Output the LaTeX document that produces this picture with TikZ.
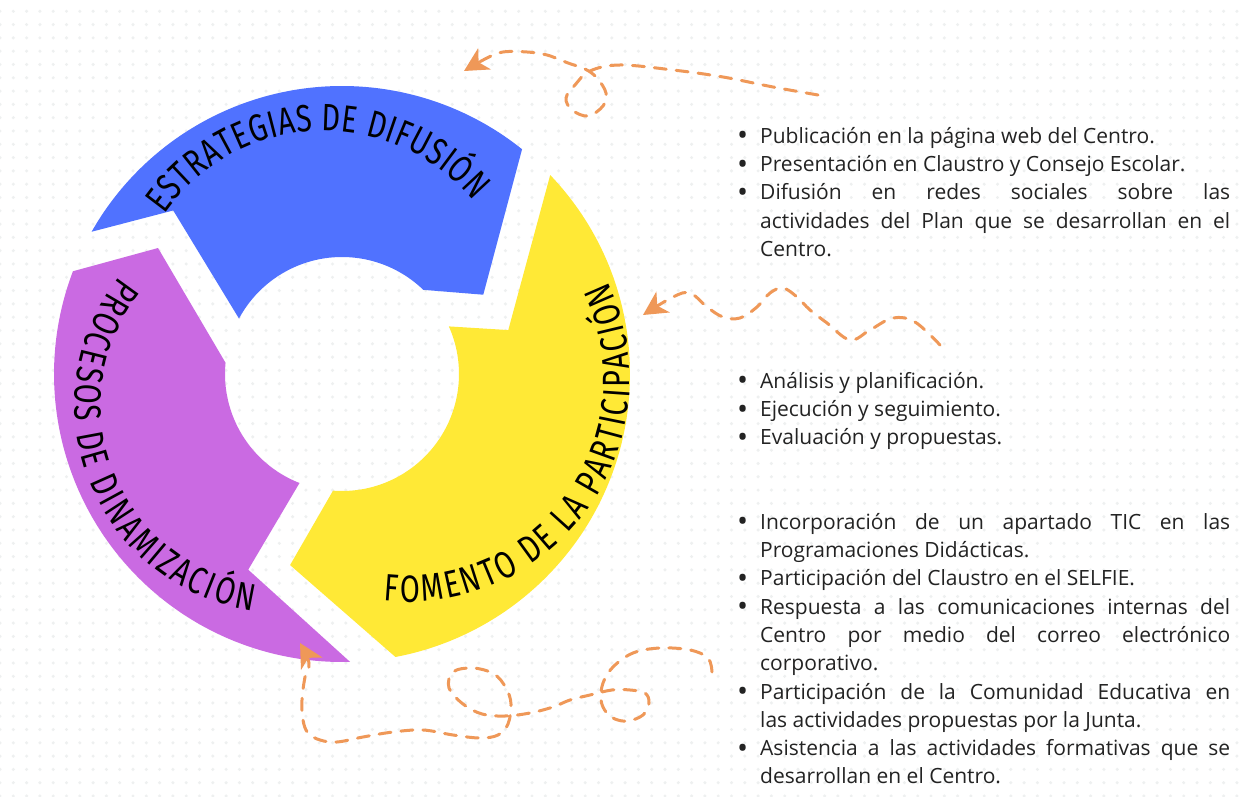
\documentclass[tikz,border=0pt]{standalone}
\usepackage{fontspec}
\setmainfont{Open Sans}
\newfontfamily\ringfont[FakeStretch=0.76]{Fira Sans}
\usetikzlibrary{calc,decorations.text,arrows.meta,patterns.meta}
\definecolor{segblue}{RGB}{80,114,255}
\definecolor{segyellow}{RGB}{255,233,54}
\definecolor{segpurple}{RGB}{202,106,226}
\definecolor{dashorange}{RGB}{239,152,88}
\definecolor{textgray}{RGB}{35,35,35}
\definecolor{dotgray}{RGB}{238,240,240}
\newcommand{\bitem}{\par\noindent\llap{\raisebox{-0.12em}{\scalebox{1.4}{\textbullet}}\kern 12pt}}
\tikzset{
  itemtext/.style={anchor=base west, text width=497pt, inner sep=0pt, align=justify,
    font=\fontsize{21pt}{28.3pt}\selectfont, text=textgray},
  dasharrow/.style={draw=dashorange, line width=3pt, line cap=round,
    dash pattern=on 12pt off 10pt,
    -{Stealth[length=24pt,width=25pt,inset=7pt,fill=dashorange,line width=0pt,round]}},
  ringtext/.style={decorate, decoration={text along path, text align={fit to path},
    text={|\ringfont\fontsize{38pt}{38pt}\selectfont\color{black}|#1}}}
}
\begin{document}
\begin{tikzpicture}[x=1pt,y=1pt]
\useasboundingbox (0,0) rectangle (1243,796);
\fill[white] (0,0) rectangle (1243,796);
\fill[pattern={Dots[distance=13.3pt,radius=1.7pt]}, pattern color=dotgray] (0,0) rectangle (1243,796);

\coordinate (C) at (342,422);
% blue segment
\fill[segblue] ($(C)+(150.4:288)$) arc[start angle=150.4, end angle=51.3, radius=288]
  -- ($(C)+(29.3:162)$) -- ($(C)+(46:117)$) arc[start angle=46, end angle=151.7, radius=117]
  -- ($(C)+(135.9:235)$) -- cycle;
% yellow segment
\fill[segyellow] ($(C)+(43.7:288)$) arc[start angle=43.7, end angle=-79.3, radius=288]
  -- ($(C)+(-105.2:198)$) -- ($(C)+(-94.4:117)$) arc[start angle=-94.4, end angle=24, radius=117]
  -- ($(C)+(14.8:172)$) -- cycle;
% purple segment
\fill[segpurple] ($(C)+(271.6:288)$) arc[start angle=271.6, end angle=159.1, radius=288]
  -- ($(C)+(145.6:223)$) -- ($(C)+(174.5:117)$) arc[start angle=174.5, end angle=248.7, radius=117]
  -- ($(C)+(244.4:217)$) -- cycle;

% curved titles
\coordinate (TB) at (324,470);
\coordinate (TY) at (407,417);
\coordinate (TP) at (283,391);
\path[ringtext={ESTRATEGIAS DE DIFUSIÓN}] ($(TB)+(145:195)$) arc[start angle=145, end angle=40, radius=195];
\path[ringtext={FOMENTO DE LA PARTICIPACIÓN}] ($(TY)+(-96:223)$) arc[start angle=-96, end angle=26, radius=223];
\path[ringtext={PROCESOS DE DINAMIZACIÓN}] ($(TP)+(141.8:208)$) arc[start angle=141.8, end angle=261.7, radius=208];

% dashed arrows
\coordinate (a1s) at (818,701);
\coordinate (a1e) at (464,725);
\draw[dasharrow] plot[smooth, tension=0.6] coordinates {(a1s) (773,709) (723,719) (673,726) (620,731) (590,725) (575,711) (566,698) (572,686) (588,680) (603,690) (606,703) (597,718) (585,727) (568,733) (547,741) (527,744) (503,744) (487,738) (a1e)};

\coordinate (a2s) at (940,451);
\coordinate (a2e) at (643,481);
\draw[dasharrow] plot[smooth, tension=0.6] coordinates {(a2s) (915,474) (893,478) (870,466) (850,456) (827,473) (810,486) (797,499) (783,508) (770,503) (757,489) (740,478) (723,479) (707,489) (690,503) (673,499) (a2e)};

\coordinate (a3s) at (712,124);
\coordinate (a3e) at (300,153);
\draw[dasharrow] plot[smooth, tension=0.6] coordinates {(a3s) (708,138) (690,146) (660,148) (633,143) (613,129) (603,113) (601,96) (606,84) (615,77) (628,75) (643,81) (649,93) (645,103) (630,106) (612,106) (590,101) (570,96) (553,89) (530,83) (505,80) (482,82) (463,92) (449,108) (453,124) (473,128) (494,122) (506,108) (511,92) (508,72) (498,61) (480,58) (453,61) (423,66) (393,64) (363,59) (337,54) (320,56) (308,63) (303,76) (302,96) (305,119) (309,133) (a3e)};

% lists
\node[itemtext] (list1) at (733,681) {\leftskip=27pt
\bitem Publicación en la página web del Centro.
\bitem Presentación en Claustro y Consejo Escolar.
\bitem Difusión en redes sociales sobre las\linebreak actividades del Plan que se desarrollan en el\linebreak Centro.\par};

\node[itemtext] (list2) at (733,436) {\leftskip=27pt
\bitem Análisis y planificación.
\bitem Ejecución y seguimiento.
\bitem Evaluación y propuestas.\par};

\node[itemtext] (list3) at (733,295) {\leftskip=27pt
\bitem Incorporación de un apartado TIC en las\linebreak Programaciones Didácticas.
\bitem Participación del Claustro en el SELFIE.
\bitem Respuesta a las comunicaciones internas del\linebreak Centro por medio del correo electrónico\linebreak corporativo.
\bitem Participación de la Comunidad Educativa en\linebreak las actividades propuestas por la Junta.
\bitem Asistencia a las actividades formativas que se\linebreak desarrollan en el Centro.\par};
\end{tikzpicture}
\end{document}
